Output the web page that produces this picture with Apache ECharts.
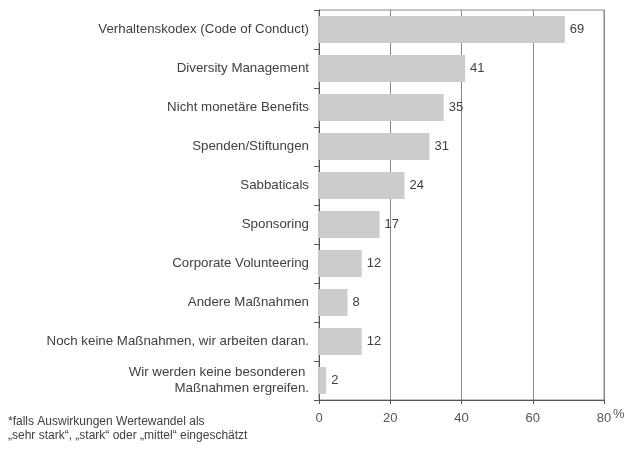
<!DOCTYPE html>
<html>
<head>
<meta charset="utf-8">
<script src="https://cdn.jsdelivr.net/npm/echarts@6/dist/echarts.min.js"></script>
<style>
  html, body { margin: 0; padding: 0; background: #fff; }
  #main { width: 625px; height: 457px; }
</style>
</head>
<body>
<div id="main"></div>
<script>
const chartDom = document.getElementById('main');
const myChart = echarts.init(chartDom);

// Categories, top to bottom
const categories = [
    'Verhaltenskodex (Code of Conduct)',
    'Diversity Management',
    'Nicht monetäre Benefits',
    'Spenden/Stiftungen',
    'Sabbaticals',
    'Sponsoring',
    'Corporate Volunteering',
    'Andere Maßnahmen',
    'Noch keine Maßnahmen, wir arbeiten daran.',
    'Wir werden keine besonderen \nMaßnahmen ergreifen.'
];
const values = [69, 41, 35, 31, 24, 17, 12, 8, 12, 2];
const xTicks = [0, 20, 40, 60, 80];
const unitLabel = '%';

const footnote = '*falls Auswirkungen Wertewandel als\n„sehr stark“, „stark“ oder „mittel“ eingeschätzt';

const font = 'Liberation Sans, Arial, sans-serif';

const option = {
    animation: false,
    textStyle: { fontFamily: font },
    grid: {
        left: 319,
        right: 21,
        top: 10,
        bottom: 57,
        outerBoundsMode: 'none',
        containLabel: false,
        show: true,
        borderColor: '#888',
        borderWidth: 1
    },
    xAxis: {
        type: 'value',
        min: xTicks[0],
        max: xTicks[xTicks.length - 1],
        interval: 20,
        axisLine: { show: true, lineStyle: { color: '#555' } },
        axisTick: { show: true, length: 4, lineStyle: { color: '#555' } },
        axisLabel: { color: '#555', fontSize: 13, margin: 12 },
        splitLine: { show: true, lineStyle: { color: '#888', width: 1 } }
    },
    yAxis: {
        type: 'category',
        inverse: true,
        data: categories,
        axisLine: { show: true, lineStyle: { color: '#555' } },
        axisTick: { show: true, length: 5, inside: false, lineStyle: { color: '#555' } },
        axisLabel: { color: '#404040', fontSize: 13.3, margin: 10, align: 'right', lineHeight: 16 },
        splitLine: { show: false }
    },
    series: [{
        type: 'bar',
        data: values,
        barWidth: 27,
        itemStyle: { color: '#cccccc' },
        label: {
            show: true,
            position: 'right',
            distance: 5,
            color: '#404040',
            fontSize: 13
        }
    }],
    graphic: [{
        type: 'text',
        left: 8,
        top: 415,
        style: {
            text: footnote,
            fill: '#404040',
            font: '12px ' + font,
            lineHeight: 14
        }
    }, {
        type: 'text',
        left: 613,
        top: 408,
        style: {
            text: unitLabel,
            fill: '#555',
            font: '13px ' + font
        }
    }]
};

myChart.setOption(option);
window.onresize = () => myChart.resize();
</script>
</body>
</html>
